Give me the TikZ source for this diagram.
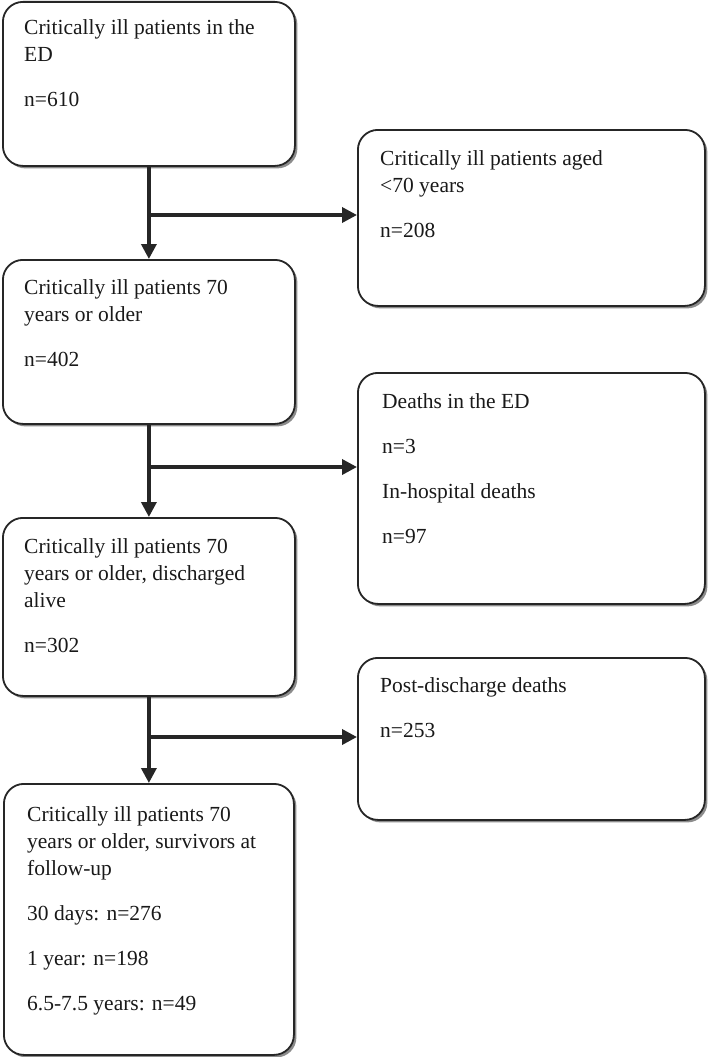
\documentclass[tikz,border=0pt]{standalone}
\usepackage{fontspec}
\setmainfont{Liberation Serif}
\usetikzlibrary{shadows,arrows.meta}
\begin{document}
\begin{tikzpicture}[x=1pt,y=-1pt,
  box/.style={draw=black!85, line width=1.8pt, rounded corners=20pt, fill=white,
    anchor=north west, inner sep=0pt,
    drop shadow={shadow xshift=2.5pt, shadow yshift=-2.5pt, fill=black!45, opacity=1}},
  txt/.style={anchor=base west, inner sep=0pt, font=\fontsize{21.5}{27}\selectfont, text=black!90},
  arr/.style={draw=black!85, line width=3.5pt, -{Triangle[length=15pt,width=15pt]}}]
\useasboundingbox[fill=white] (0,0) rectangle (709,1057);
% boxes
\node[box, minimum width=292pt, minimum height=164pt] (b1) at (2,1) {};
\node[box, minimum width=347pt, minimum height=176pt] (b2) at (357,129) {};
\node[box, minimum width=292pt, minimum height=164pt] (b3) at (2,259) {};
\node[box, minimum width=347pt, minimum height=231pt] (b4) at (357,372) {};
\node[box, minimum width=292pt, minimum height=178pt] (b5) at (2,517) {};
\node[box, minimum width=347pt, minimum height=162pt] (b6) at (357,657) {};
\node[box, minimum width=290pt, minimum height=271pt] (b7) at (3,783) {};
% texts
\node[txt] (t1) at (24,35) {\parbox[t]{270pt}{Critically ill patients in the\\ED\\[18pt]n=610}};
\node[txt] (t2) at (380,165) {\parbox[t]{320pt}{Critically ill patients aged\\<70 years\\[18pt]n=208}};
\node[txt] (t3) at (24,294) {\parbox[t]{270pt}{Critically ill patients 70\\years or older\\[18pt]n=402}};
\node[txt] (t4) at (382,408) {\parbox[t]{320pt}{Deaths in the ED\\[18pt]n=3\\[18pt]In-hospital deaths\\[18pt]n=97}};
\node[txt] (t5) at (24,553) {\parbox[t]{270pt}{Critically ill patients 70\\years or older, discharged\\alive\\[18pt]n=302}};
\node[txt] (t6) at (380,692) {\parbox[t]{320pt}{Post-discharge deaths\\[18pt]n=253}};
\node[txt] (t7) at (27,821) {\parbox[t]{270pt}{Critically ill patients 70\\years or older, survivors at\\follow-up\\[18pt]30 days: n=276\\[18pt]1 year: n=198\\[18pt]6.5-7.5 years: n=49}};
% junctions
\coordinate (j1) at (148,215);
\coordinate (j2) at (148,467);
\coordinate (j3) at (148,737);
% connectors
\draw[arr] (b1.south) -- (b3.north);
\draw[arr] (j1) -- (j1 -| b2.west);
\draw[arr] (b3.south) -- (b5.north);
\draw[arr] (j2) -- (j2 -| b4.west);
\draw[arr] (b5.south) -- (b7.north);
\draw[arr] (j3) -- (j3 -| b6.west);
\end{tikzpicture}
\end{document}
